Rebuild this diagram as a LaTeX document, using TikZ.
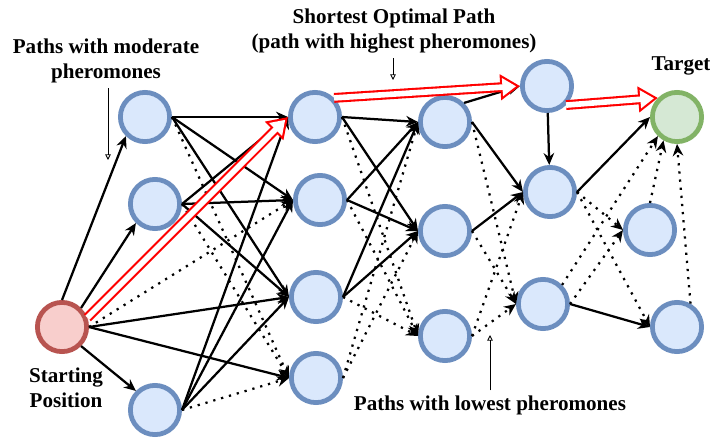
\documentclass[tikz,border=0pt]{standalone}
\usepackage{fontspec}
\setmainfont{Liberation Serif}
\usetikzlibrary{arrows.meta,positioning}
\definecolor{cityfill}{HTML}{DAE8FC}
\definecolor{cityedge}{HTML}{6C8EBF}
\definecolor{nestfill}{HTML}{F8CECC}
\definecolor{nestedge}{HTML}{B85450}
\definecolor{foodfill}{HTML}{D5E8D4}
\definecolor{foodedge}{HTML}{82B366}

\begin{document}
\begin{tikzpicture}[
        x=0.025cm, y=-0.025cm,
        city/.style={circle, draw=cityedge, fill=cityfill, line width=3.4pt,
            minimum size=1.23cm, inner sep=0pt},
        nest/.style={city, draw=nestedge, fill=nestfill},
        food/.style={city, draw=foodedge, fill=foodfill},
        trail/.style={line width=1.6pt, -{Stealth[length=8.5pt,width=7.5pt]}},
        weak/.style={trail, dash pattern=on 1.6pt off 4.2pt},
        best/.style={draw=white, line width=4pt, shorten >=2.8pt,
            -{Triangle[length=9.7pt,width=12.3pt]},
            preaction={draw=red, line width=7pt, shorten >=0pt,
                -{Triangle[length=14pt,width=17.7pt]}}},
        note/.style={line width=0.6pt, -{Triangle[open,length=4pt,width=4pt]}},
        caption/.style={font=\bfseries\fontsize{15}{18}\selectfont, align=center}
    ]
        \useasboundingbox (0,0) rectangle (710,441);

        % ant nest, food source and the cities between them
        \node[nest] (S) at (62,327) {};
        \node[city] (A1) at (145,117) {};
        \node[city] (A2) at (155,204) {};
        \node[city] (A3) at (155,410) {};
        \node[city] (B1) at (315,117) {};
        \node[city] (B2) at (320,200) {};
        \node[city] (B3) at (316,297) {};
        \node[city] (B4) at (316,378) {};
        \node[city] (C1) at (445,122) {};
        \node[city] (C2) at (445,231) {};
        \node[city] (C3) at (445,336) {};
        \node[city] (D1) at (547,86) {};
        \node[city] (D2) at (550,192) {};
        \node[city] (D3) at (543,304) {};
        \node[food] (T) at (677,117) {};
        \node[city] (E1) at (650,230) {};
        \node[city] (E2) at (677,327) {};

        % captions
        \node[caption] (moderate) at (106,61) {Paths with moderate\\pheromones};
        \node[caption] (shortest) at (394,31) {Shortest Optimal Path\\(path with highest pheromones)};
        \node[caption] (target) at (681,66) {Target};
        \node[caption] (startlbl) at (66,388) {Starting\\Position};
        \node[caption] (lowest) at (490,405) {Paths with lowest pheromones};

        \coordinate (modtip) at (108,160);
        \coordinate (shorttip) at (393,80);
        \coordinate (lowtip) at (490,335);
        \draw[note] (moderate.south -| modtip) -- (modtip);
        \draw[note] (shortest.south -| shorttip) -- (shorttip);
        \draw[note] (lowest.north -| lowtip) -- (lowtip);

        % from the nest
        \draw[trail] (S.north) -- (A1.south west);
        \draw[trail] (S.north east) -- (A2.south west);
        \draw[trail] (S.south east) -- (A3.north west);
        \draw[weak] (S.east) -- (B2.west);
        \draw[trail] (S.east) -- (B3.west);
        \draw[trail] (S.east) -- (B4.west);

        % first layer
        \draw[trail] (A1.east) -- (B1.west);
        \draw[trail] (A1.east) -- (B2.west);
        \draw[trail] (A1.east) -- (B3.west);
        \draw[weak] (A1.east) -- (B4.west);
        \draw[trail] (A2.east) -- (B1.west);
        \draw[trail] (A2.east) -- (B2.west);
        \draw[trail] (A2.east) -- (B3.west);
        \draw[weak] (A2.east) -- (B4.west);
        \draw[trail] (A3.east) -- (B1.west);
        \draw[trail] (A3.east) -- (B2.west);
        \draw[trail] (A3.east) -- (B3.west);
        \draw[weak] (A3.east) -- (B4.west);

        % second layer
        \draw[trail] (B1.east) -- (C1.west);
        \draw[trail] (B1.east) -- (C2.west);
        \draw[weak] (B1.east) -- (C3.west);
        \draw[trail] (B2.east) -- (C1.west);
        \draw[trail] (B2.east) -- (C2.west);
        \draw[weak] (B2.east) -- (C3.west);
        \draw[trail] (B3.east) -- (C1.west);
        \draw[trail] (B3.east) -- (C2.west);
        \draw[weak] (B3.east) -- (C3.west);
        \draw[weak] (B4.east) -- (C1.west);
        \draw[weak] (B4.east) -- (C2.west);

        % third layer
        \draw[trail] (C1.north east) -- (D1.west);
        \draw[trail] (C1.east) -- (D2.west);
        \draw[weak] (C1.east) -- (D3.west);
        \draw[trail] (C2.east) -- (D2.west);
        \draw[weak] (C2.east) -- (D3.west);
        \draw[weak] (C3.east) -- (D2.west);
        \draw[weak] (C3.east) -- (D3.west);

        % towards the food
        \draw[trail] (D1) -- (D2);
        \draw[trail] (D2.east) -- (T.west);
        \draw[weak] (D2.east) -- (E1.west);
        \draw[weak] (D2.east) -- (E2.west);
        \draw[weak] (D3.north east) -- (T.south west);
        \draw[weak] (D3.east) -- (E1.west);
        \draw[trail] (D3.east) -- (E2.west);
        \draw[weak] (E1.north) -- (T.240);
        \draw[weak] (E2.60) -- (T.south);

        % shortest path
        \draw[best] (S.20) -- (B1.west);
        \draw[best] (B1.north east) -- (D1.west);
        \draw[best] (D1.south east) -- (T.north west);
    \end{tikzpicture}
\end{document}
